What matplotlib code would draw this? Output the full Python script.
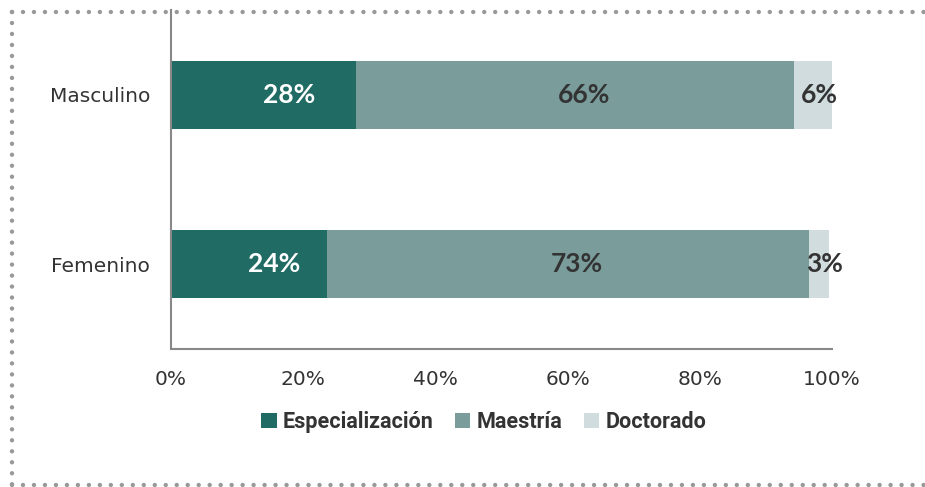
import matplotlib
matplotlib.use("Agg")
import matplotlib.pyplot as plt
from matplotlib.lines import Line2D
from matplotlib.patches import Patch

categories = ["Femenino", "Masculino"]
series_names = ["Especialización", "Maestría", "Doctorado"]
values = {
    "Especialización": [23.6, 28.0],
    "Maestría": [72.9, 66.3],
    "Doctorado": [3.0, 5.7],
}
labels = {
    "Especialización": ["24%", "28%"],
    "Maestría": ["73%", "66%"],
    "Doctorado": ["3%", "6%"],
}
xticks = [0, 20, 40, 60, 80, 100]
xticklabels = ["0%", "20%", "40%", "60%", "80%", "100%"]

colors = ["#206b64", "#7a9c9b", "#d0dcdd"]
text_colors = ["white", "#333333", "#333333"]
label_offsets = [3.8, 1.3, 0.9]

fig = plt.figure(figsize=(9.25, 4.87), dpi=100)
ax = fig.add_axes([171/925, 1-349/487, (832-171)/925, (349-10)/487])

ypos = list(range(len(categories)))
left = [0.0] * len(categories)
for i, name in enumerate(series_names):
    vals = values[name]
    ax.barh(ypos, vals, left=left, height=0.4, color=colors[i], edgecolor="none")
    for j, v in enumerate(vals):
        cx = left[j] + v / 2 + label_offsets[i]
        ax.text(cx, ypos[j], labels[name][j], ha="center", va="center",
                color=text_colors[i], fontsize=19, fontweight="bold",
                family=["Lato", "DejaVu Sans"])
    left = [l + v for l, v in zip(left, vals)]

ax.set_xlim(0, 100)
ax.set_ylim(-0.5, 1.5)
ax.set_xticks(xticks)
ax.set_xticklabels(xticklabels)
ax.set_yticks(ypos)
ax.set_yticklabels(categories)
ax.tick_params(axis="both", length=0, labelsize=14.5, colors="#333333")
ax.tick_params(axis="x", pad=15)
ax.tick_params(axis="y", pad=15)
for lab in ax.get_xticklabels() + ax.get_yticklabels():
    lab.set_family(["DejaVu Sans"])
for s in ["top", "right"]:
    ax.spines[s].set_visible(False)
for s in ["left", "bottom"]:
    ax.spines[s].set_color("#888888")
    ax.spines[s].set_linewidth(1.5)

handles = [Patch(facecolor=c, edgecolor="none") for c in colors]
leg = fig.legend(handles, series_names, loc="center", bbox_to_anchor=(484/925, 1-422/487),
                 ncol=3, frameon=False, handlelength=0.7, handleheight=0.7,
                 handletextpad=0.3, columnspacing=1.0,
                 prop={"family": ["Roboto", "DejaVu Sans"], "weight": "bold", "size": 15.5})
for t in leg.get_texts():
    t.set_color("#333333")

dot = dict(color="#999999", lw=3.2, linestyle=(0, (0.001, 2.47)),
           dash_capstyle="round", transform=fig.transFigure)
fx = lambda px: px / 925
fy = lambda py: 1 - py / 487
fig.add_artist(Line2D([fx(12), fx(925)], [fy(12), fy(12)], **dot))
fig.add_artist(Line2D([fx(12), fx(12)], [fy(12), fy(485)], **dot))
fig.add_artist(Line2D([fx(12), fx(925)], [fy(485), fy(485)], **dot))

fig.savefig("out.png", dpi=100)
